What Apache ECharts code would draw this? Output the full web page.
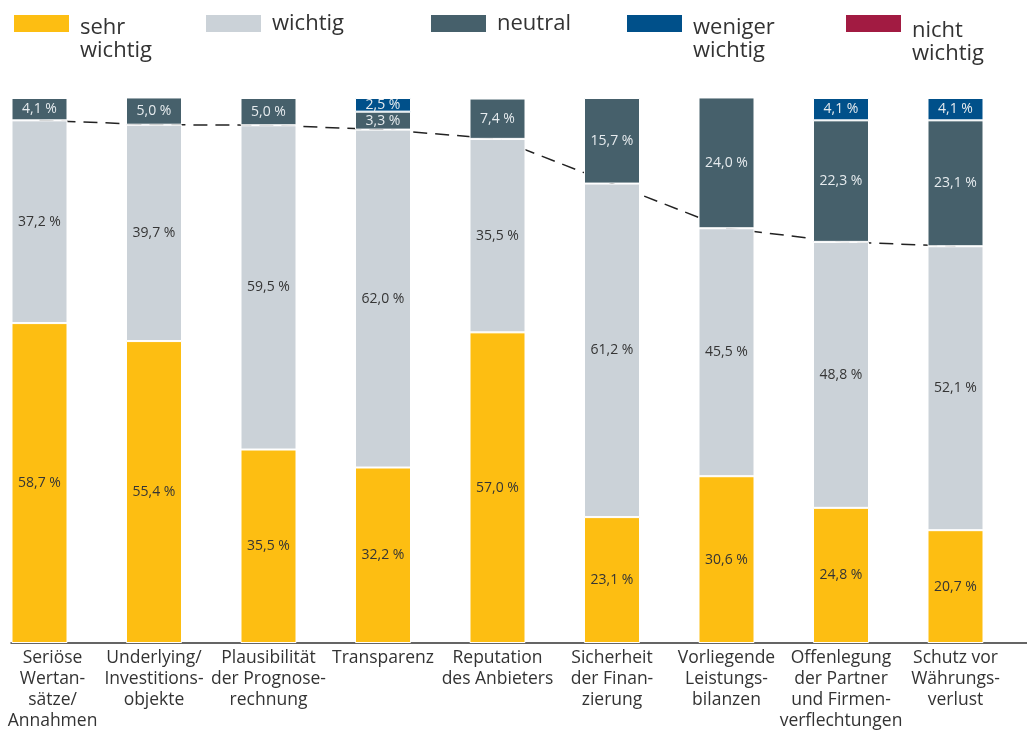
<!DOCTYPE html>
<html>
<head>
<meta charset="utf-8">
<script src="https://cdn.jsdelivr.net/npm/echarts@6/dist/echarts.min.js"></script>
<style>
  html, body { margin: 0; padding: 0; background: #fff; }
  #chart { width: 1027px; height: 731px; }
</style>
</head>
<body>
<div id="chart"></div>
<script>
// Kategorien (Zeilenumbrüche wie in der Achsenbeschriftung)
const categories = [
  'Seriöse\nWertan-\nsätze/\nAnnahmen',
  'Underlying/\nInvestitions-\nobjekte',
  'Plausibilität\nder Prognose-\nrechnung',
  'Transparenz',
  'Reputation\ndes Anbieters',
  'Sicherheit\nder Finan-\nzierung',
  'Vorliegende\nLeistungs-\nbilanzen',
  'Offenlegung\nder Partner\nund Firmen-\nverflechtungen',
  'Schutz vor\nWährungs-\nverlust'
];

// Anteile in Prozent je Antwortkategorie
const sehrWichtig    = [58.7, 55.4, 35.5, 32.2, 57.0, 23.1, 30.6, 24.8, 20.7];
const wichtig        = [37.2, 39.7, 59.5, 62.0, 35.5, 61.2, 45.5, 48.8, 52.1];
const neutral        = [4.1, 5.0, 5.0, 3.3, 7.4, 15.7, 24.0, 22.3, 23.1];
const wenigerWichtig = [0, 0, 0, 2.5, 0, 0, 0, 4.1, 4.1];
const nichtWichtig   = [0, 0, 0, 0, 0, 0, 0, 0, 0];

const seriesNames = ['sehr wichtig', 'wichtig', 'neutral', 'weniger wichtig', 'nicht wichtig'];
const legendLabels = ['sehr\nwichtig', 'wichtig', 'neutral', 'weniger\nwichtig', 'nicht\nwichtig'];
const seriesValues = [sehrWichtig, wichtig, neutral, wenigerWichtig, nichtWichtig];
const colors = ['#FDBE12', '#CBD2D8', '#46606B', '#00508A', '#A21B42'];
const labelColors = ['#353535', '#353535', '#E6EBEE', '#E6EBEE', '#E6EBEE'];

// Summe "sehr wichtig" + "wichtig" für die gestrichelte Linie
const topTwo = sehrWichtig.map((v, i) => Math.round((v + wichtig[i]) * 10) / 10);

const fmt = v => v.toFixed(1).replace('.', ',') + ' %';
const FONT = '"Open Sans", "Noto Sans", sans-serif';

const barSeries = seriesNames.map((name, k) => ({
  name: name,
  type: 'bar',
  stack: 'total',
  barWidth: 56,
  clip: false,
  z: 3,
  itemStyle: { color: colors[k], borderColor: '#ffffff', borderWidth: 1 },
  label: {
    show: true,
    position: 'inside',
    color: labelColors[k],
    fontFamily: FONT,
    fontSize: 14,
    formatter: p => (p.value > 0 ? fmt(p.value) : '')
  },
  data: seriesValues[k].map(v => (v > 0 ? v : '-'))
}));

// Legendeneinträge einzeln platziert; zweizeilige Texte beginnen auf Höhe des Farbfelds
const ICON_TOP = 14, ICON_H = 19, LINE_H = 23;
const legendLeft = [12, 204, 429, 625, 844];
const legendLead = [31, 0, 0, 31, 37];   // Höhe der Leerzeile über zweizeiligen Texten
const legends = seriesNames.map((name, k) => {
  const twoLines = legendLead[k] > 0;
  const blockH = twoLines ? legendLead[k] + 2 * LINE_H : LINE_H;
  return {
    data: [name],
    left: legendLeft[k],
    top: ICON_TOP - Math.max(0, blockH / 2 - ICON_H / 2),
    padding: 0,
    icon: 'rect',
    itemWidth: 57,
    itemHeight: ICON_H,
    selectedMode: false,
    formatter: () => {
      const lines = legendLabels[k].split('\n').map(s => '{t|' + s + '}');
      return (twoLines ? ['{b|\u00a0}'].concat(lines) : lines).join('\n');
    },
    textStyle: {
      fontFamily: FONT,
      fontSize: 22,
      lineHeight: LINE_H,
      color: '#333333',
      rich: {
        t: { fontFamily: FONT, fontSize: 22, lineHeight: LINE_H, color: '#333333', padding: [0, 0, 0, 5] },
        b: { fontSize: 10, lineHeight: legendLead[k] }
      }
    }
  };
});

const chart = echarts.init(document.getElementById('chart'), null, { renderer: 'canvas' });
chart.setOption({
  animation: false,
  backgroundColor: '#ffffff',
  color: colors,
  legend: legends,
  grid: [
    { left: 39.5, right: 71.5, top: 98, bottom: 88, outerBoundsMode: 'none', containLabel: false },
    { left: 11, right: 0, top: 98, bottom: 88, outerBoundsMode: 'none', containLabel: false }
  ],
  xAxis: [
    {
      type: 'category',
      gridIndex: 0,
      boundaryGap: false,
      data: categories,
      axisLine: { show: false },
      axisTick: { show: false },
      splitLine: { show: false },
      axisLabel: {
        interval: 0,
        margin: 5,
        fontFamily: FONT,
        fontSize: 17.5,
        lineHeight: 21,
        color: '#333333',
        formatter: (value, index) => index === 0
          ? value.split('\n').map(s => '{s|\u00a0}{l|' + s + '}').join('\n')
          : value,
        rich: {
          s: { width: 26, fontSize: 17.5, lineHeight: 21 },
          l: { width: 100, align: 'left', fontFamily: FONT, fontSize: 17.5, lineHeight: 21, color: '#333333' }
        }
      }
    },
    {
      type: 'value',
      gridIndex: 1,
      min: 0,
      max: 1,
      axisLine: { show: true, lineStyle: { color: '#333333', width: 1.5 } },
      axisTick: { show: false },
      axisLabel: { show: false },
      splitLine: { show: false }
    }
  ],
  yAxis: [
    { type: 'value', gridIndex: 0, min: 0, max: 100, show: false },
    { type: 'value', gridIndex: 1, min: 0, max: 1, show: false }
  ],
  series: barSeries.concat([{
    name: 'Summe',
    type: 'line',
    z: 1,
    silent: true,
    clip: false,
    symbol: 'none',
    lineStyle: { color: '#222222', width: 1.5, type: [14, 8] },
    data: topTwo
  }])
});
</script>
</body>
</html>
